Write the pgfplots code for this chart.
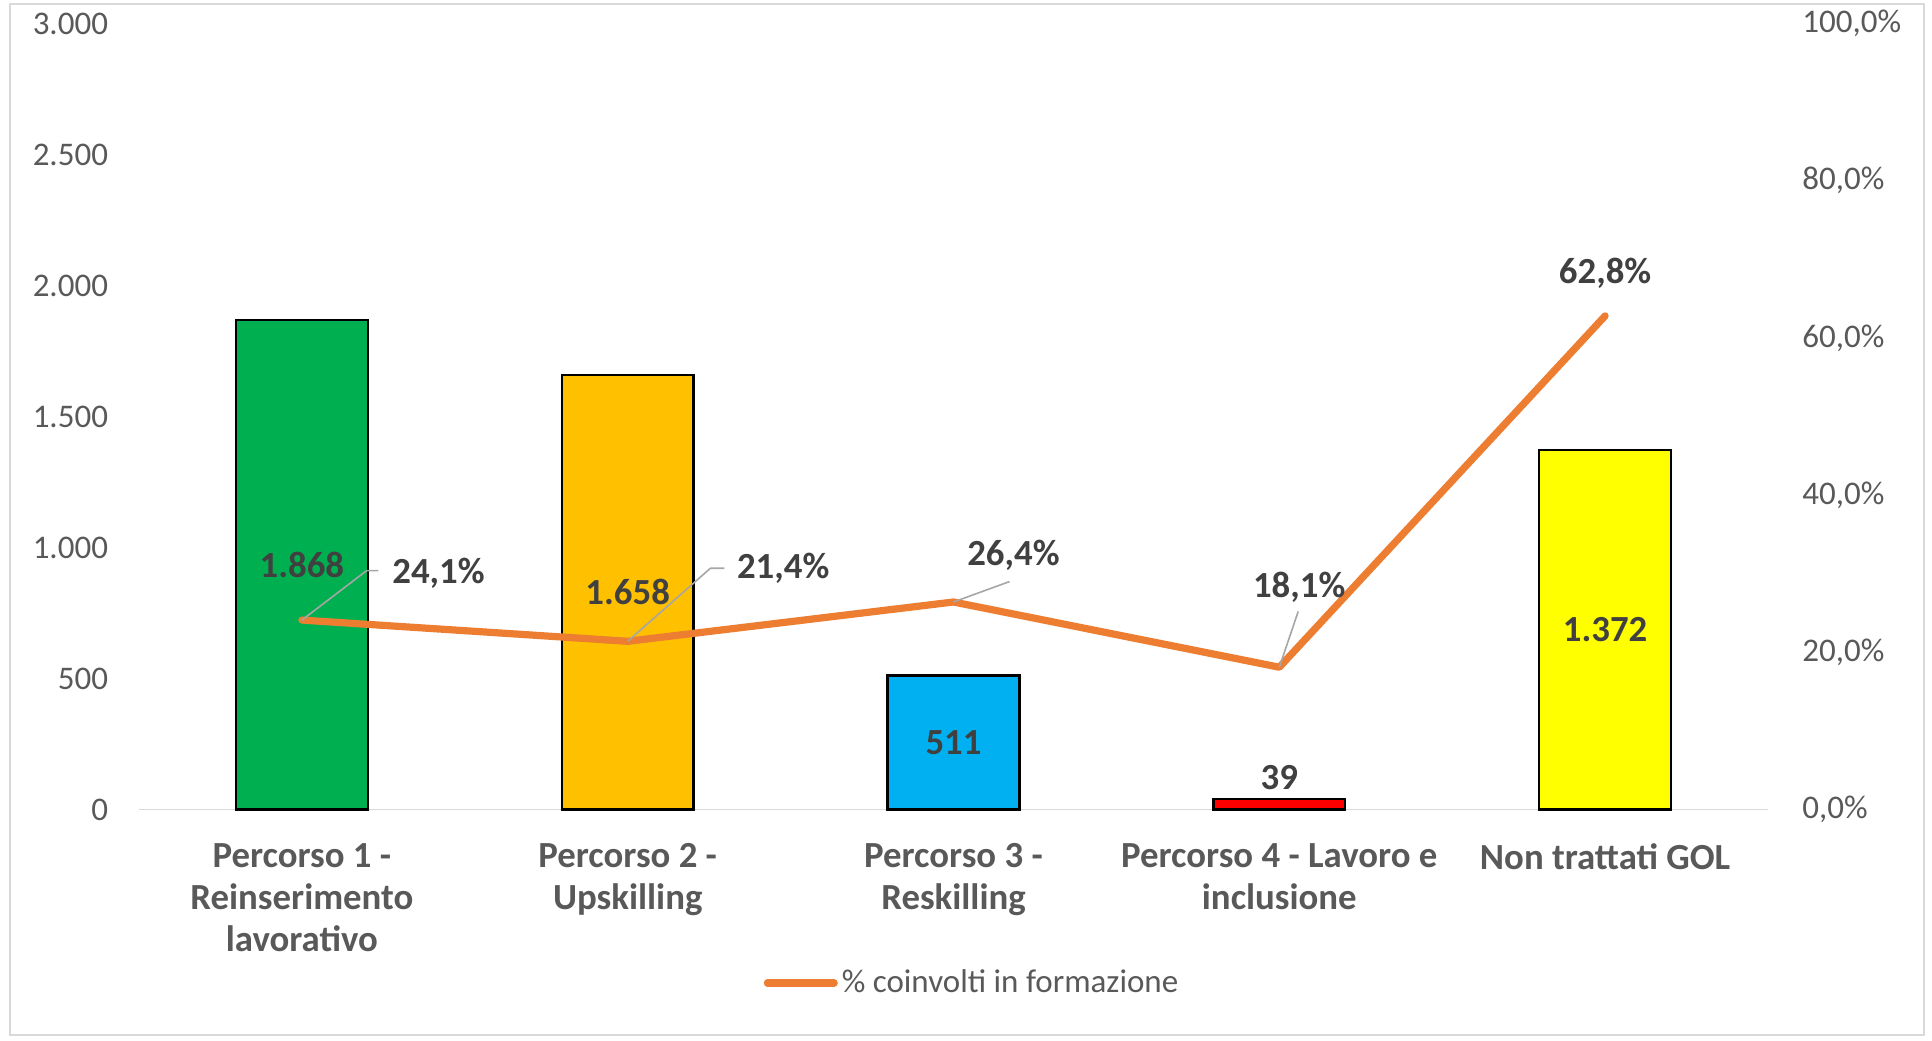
\documentclass[border=0pt]{standalone}
\usepackage{fontspec}
\setmainfont{Carlito}
\usepackage{pgfplots}
\pgfplotsset{compat=1.18}
\definecolor{tickgrey}{HTML}{595959}
\definecolor{labgrey}{HTML}{404040}
\definecolor{framegrey}{HTML}{D9D9D9}
\definecolor{leadgrey}{HTML}{A6A6A6}
\definecolor{lineorange}{HTML}{ED7D31}
\definecolor{cgreen}{HTML}{00B050}
\definecolor{corange}{HTML}{FFC000}
\definecolor{cblue}{HTML}{00B0F0}
\definecolor{cred}{HTML}{FF0000}
\definecolor{cyellow}{HTML}{FFFF00}
\begin{document}
\begin{tikzpicture}
\useasboundingbox (0pt,0pt) rectangle (966pt,520pt);
\draw[framegrey, line width=1pt] (5pt,2.5pt) rectangle (962pt,518pt);
\pgfplotsset{
  common/.style={
    at={(69.5pt,115.25pt)}, anchor=south west, scale only axis,
    width=814.5pt, height=393pt, xmin=-0.5, xmax=4.5, clip=false,
    major tick length=0pt, tick style={draw=none},
    /pgf/number format/assume math mode=true,
  },
  barlab/.style={draw=none, mark=none, forget plot, nodes near coords, point meta=explicit symbolic,
    nodes near coords style={anchor=center, font=\bfseries\fontsize{18.4}{20}\selectfont, text=labgrey}},
}
\begin{axis}[common,
  ymin=0, ymax=3000,
  axis x line*=bottom, axis y line*=left,
  y axis line style={draw=none},
  x axis line style={draw=framegrey, line width=0.9pt},
  ytick={0,500,...,3000},
  scaled y ticks=false,
  yticklabel style={/pgf/number format/1000 sep={.}, font=\fontsize{16.5}{18}\selectfont, text=tickgrey, inner sep=0pt, anchor=east, xshift=-15.3pt},
  xtick={0,1,2,3,4},
  xticklabels={{Percorso 1 -\\Reinserimento\\lavorativo},{Percorso 2 -\\Upskilling},{Percorso 3 -\\Reskilling},{Percorso 4 - Lavoro e\\inclusione},{Non trattati GOL}},
  xticklabel style={align=center, font=\bfseries\fontsize{18.4}{21}\selectfont, text=tickgrey, anchor=north, inner sep=0pt, yshift=-16.8pt},
]
\addplot[ybar, bar width=0.405, bar shift=0, fill=cgreen, draw=black, line width=1.2pt] coordinates {(0,1868)};
\addplot[ybar, bar width=0.405, bar shift=0, fill=corange, draw=black, line width=1.2pt] coordinates {(1,1658)};
\addplot[ybar, bar width=0.405, bar shift=0, fill=cblue, draw=black, line width=1.2pt] coordinates {(2,511)};
\addplot[ybar, bar width=0.405, bar shift=0, fill=cred, draw=black, line width=1.2pt] coordinates {(3,39)};
\addplot[ybar, bar width=0.405, bar shift=0, fill=cyellow, draw=black, line width=1.2pt] coordinates {(4,1372)};
\addplot[barlab] coordinates {(0,934)[1.868] (1,829)[1.658] (2,255.5)[511] (3,122)[39] (4,686)[1.372]};
\end{axis}
\begin{axis}[common,
  ymin=0, ymax=100,
  axis x line=none, axis y line*=right,
  y axis line style={draw=none},
  ytick={0,20,...,100},
  yticklabel={\pgfmathprintnumber[fixed,precision=1,zerofill,use comma]{\tick}\%},
  yticklabel style={font=\fontsize{16.5}{18}\selectfont, text=tickgrey, inner sep=0pt, anchor=west, xshift=17pt},
  legend style={at={(0.512,-0.2207)}, anchor=center, draw=none, fill=none,
    font=\fontsize{16.5}{18}\selectfont, text=tickgrey, inner sep=0pt,
    /tikz/every even column/.append style={column sep=0pt}},
  legend image code/.code={\draw[lineorange, line width=3.6pt, line cap=round] (1.8pt,0pt) -- (35.2pt,0pt);},
]
\addplot[lineorange, line width=3.6pt, line join=round, line cap=round, mark=none] coordinates {(0,24.1) (1,21.4) (2,26.4) (3,18.1) (4,62.8)};
\addlegendentry{\% coinvolti in formazione}
\addplot[leadgrey, line width=0.8pt, forget plot] coordinates {(0,24.1) (0.199,30.4) (0.235,30.4)};
\addplot[leadgrey, line width=0.8pt, forget plot] coordinates {(1,21.4) (1.254,30.7) (1.297,30.7)};
\addplot[leadgrey, line width=0.8pt, forget plot] coordinates {(2,26.4) (2.172,29.0)};
\addplot[leadgrey, line width=0.8pt, forget plot] coordinates {(3,18.1) (3.058,25.2)};
\addplot[barlab, nodes near coords style={anchor=west}] coordinates {(0.256,30.1)[24,1\%] (1.314,30.7)[21,4\%]};
\addplot[barlab] coordinates {(2.184,32.3)[26,4\%] (3.061,28.3)[18,1\%] (4,68.2)[62,8\%]};
\end{axis}
\end{tikzpicture}
\end{document}
